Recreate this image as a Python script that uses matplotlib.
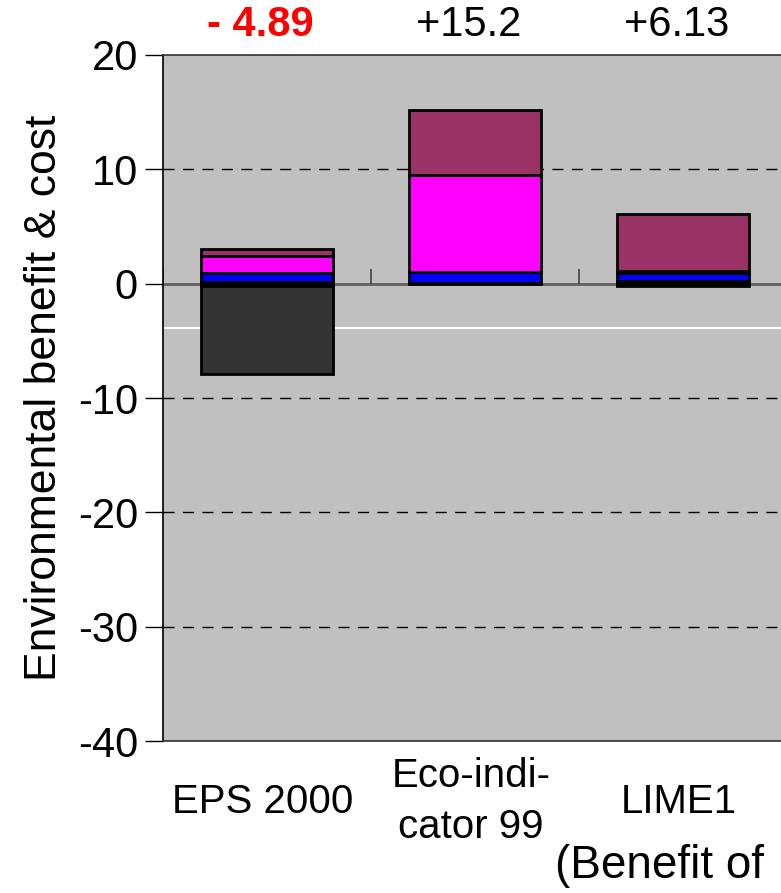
import numpy as np
import matplotlib.pyplot as plt

plt.rcParams['font.family'] = ['Liberation Sans', 'DejaVu Sans']
plt.rcParams['axes.unicode_minus'] = False

# categories and totals
methods = ["EPS 2000", "Eco-indi-\ncator 99", "LIME1"]
totals = ["- 4.89", "+15.2", "+6.13"]
total_colors = ["#FF0000", "black", "black"]
total_weights = ["bold", "normal", "normal"]

# stacked segments (bottom to top for positive part)
seg_black = [0.17, 0.1, 0.2]
seg_blue = [0.78, 0.9, 0.72]
seg_magenta = [1.5, 8.5, 0.15]
seg_maroon = [0.55, 5.7, 5.0]
# negative part
neg_black = [-0.18, 0.0, -0.18]
neg_gray = [-7.7, 0.0, 0.0]

ref_line = -3.9  # white line

fig = plt.figure(figsize=(7.81, 8.93), dpi=100)
ax = fig.add_axes([163 / 781, 152 / 893, 832 / 781, 686 / 893])
ax.set_facecolor("#C0C0C0")

x = np.arange(len(methods))
w = 0.635
kw = dict(width=w, edgecolor="black", linewidth=2, zorder=3)

bottom = np.zeros(len(methods))
for vals, col in [(seg_black, "black"), (seg_blue, "#0000FF"),
                  (seg_magenta, "#FF00FF"), (seg_maroon, "#993366")]:
    ax.bar(x, vals, bottom=bottom, color=col, **kw)
    bottom += np.array(vals)

nbottom = np.zeros(len(methods))
for vals, col in [(neg_black, "black"), (neg_gray, "#333333")]:
    v = np.array(vals)
    mask = v != 0
    ax.bar(x[mask], v[mask], bottom=nbottom[mask], color=col, **kw)
    nbottom += v

ax.set_xlim(-0.5, 3.5)
ax.set_ylim(-40, 20)
ax.set_yticks(np.arange(-40, 21, 10))
ax.tick_params(axis="y", labelsize=30, length=13, width=1, direction="out",
               pad=5, colors="black")
ax.set_xticks([])

for yv in [-30, -20, -10, 10]:
    ax.axhline(yv, color="black", linewidth=1, linestyle=(0, (8, 6)), zorder=1)
ax.axhline(ref_line, color="white", linewidth=1.5, zorder=1)
ax.axhline(0, color="#606060", linewidth=2, zorder=2)
ax.vlines(np.arange(len(methods) + 1) - 0.5, 0, 1.3, color="#404040",
          linewidth=1.2, zorder=2)

for s in ["top", "bottom"]:
    ax.spines[s].set_color("#303030")
    ax.spines[s].set_linewidth(1.2)
ax.spines["right"].set_visible(False)
ax.spines["left"].set_linewidth(1.2)

ax.set_ylabel("Environmental benefit & cost", fontsize=32, labelpad=9)

for i, m in enumerate(methods):
    ax.text(i - 0.02, -45.3, m, ha="center", va="center", fontsize=29,
            linespacing=1.45)
    ax.text(i - 0.03, 22.6, totals[i], ha="center", va="center", fontsize=30,
            color=total_colors[i], fontweight=total_weights[i])

fig.text(555 / 781, 1 - 866 / 893, "(Benefit of", ha="left", va="center",
         fontsize=33)

fig.savefig("out.png", dpi=100)
